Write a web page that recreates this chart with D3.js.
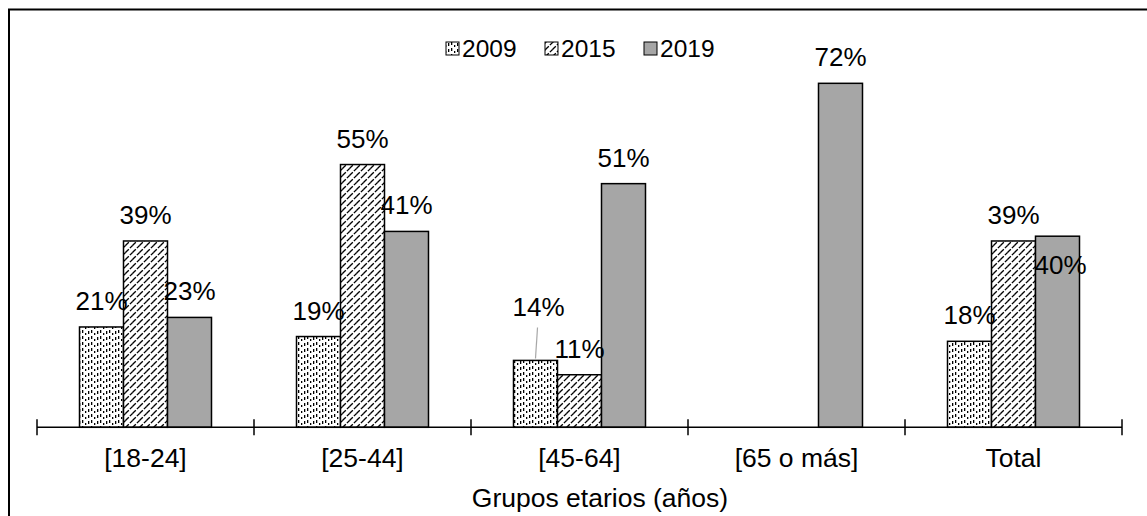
<!DOCTYPE html>
<html>
<head>
<meta charset="utf-8">
<script src="https://cdn.jsdelivr.net/npm/d3@7"></script>
<style>
  html, body { margin: 0; padding: 0; background: #fff; }
  svg { display: block; font-family: "Liberation Sans", Arial, sans-serif; }
</style>
</head>
<body>
<svg id="chart" width="1147" height="516"></svg>
<script>
// ---- data ----
const categories = ["[18-24]", "[25-44]", "[45-64]", "[65 o más]", "Total"];
const seriesNames = ["2009", "2015", "2019"];
const values2009 = [0.21, 0.19, 0.14, null, 0.18];
const values2015 = [0.39, 0.55, 0.11, null, 0.39];
const values2019 = [0.23, 0.41, 0.51, 0.72, 0.40];
const xAxisTitle = "Grupos etarios (años)";
// manual label nudges (dx, dy) for overlapping labels, keyed "series|category"
const labelNudges = { "2009|[45-64]": [3, -27], "2019|Total": [3, 55] };

const seriesValues = [values2009, values2015, values2019];

const svg = d3.select("#chart");
const W = 1147, H = 516;
svg.append("rect").attr("width", W).attr("height", H).attr("fill", "#fff");

// ---- patterns ----
const defs = svg.append("defs");
// 2009: dashed vertical lines
const p1 = defs.append("pattern").attr("id", "pat2009").attr("patternUnits", "userSpaceOnUse")
  .attr("width", 9).attr("height", 6);
p1.append("rect").attr("width", 9).attr("height", 6).attr("fill", "#fff");
p1.append("rect").attr("x", 1).attr("y", 0).attr("width", 1.3).attr("height", 3).attr("fill", "#000");
p1.append("rect").attr("x", 4).attr("y", 3).attr("width", 1.3).attr("height", 2).attr("fill", "#000");
p1.append("rect").attr("x", 7).attr("y", 1).attr("width", 1.3).attr("height", 3).attr("fill", "#000");
// 2015: dashed upward diagonals
const p2 = defs.append("pattern").attr("id", "pat2015").attr("patternUnits", "userSpaceOnUse")
  .attr("width", 7).attr("height", 7);
p2.append("rect").attr("width", 7).attr("height", 7).attr("fill", "#fff");
p2.append("path").attr("d", "M0,7 L7,0 M-2,2 L2,-2 M5,9 L9,5")
  .attr("stroke", "#000").attr("stroke-width", 1.3).attr("stroke-dasharray", "4,1.5");

const fills = { "2009": "url(#pat2009)", "2015": "url(#pat2015)", "2019": "#a6a6a6" };

// ---- frame (only top/left visible) ----
svg.append("rect").attr("x", 9).attr("y", 9.5).attr("width", 1400).attr("height", 800)
  .attr("fill", "none").attr("stroke", "#000").attr("stroke-width", 2);

// ---- scales ----
const x0 = d3.scaleBand().domain(categories).range([37, 1122]).paddingInner(0).paddingOuter(0);
const x1 = d3.scaleBand().domain(seriesNames).range([0, x0.bandwidth()]).paddingInner(0).paddingOuter(0.966);
const y = d3.scaleLinear().domain([0, 0.8]).range([427.3, 45.1]);

// ---- bars ----
const barData = [];
seriesNames.forEach((s, si) => {
  categories.forEach((c, ci) => {
    const v = seriesValues[si][ci];
    if (v != null) barData.push({ s, c, v });
  });
});

svg.append("g").selectAll("rect").data(barData).join("rect")
  .attr("x", d => x0(d.c) + x1(d.s))
  .attr("y", d => y(d.v))
  .attr("width", x1.bandwidth())
  .attr("height", d => y(0) - y(d.v))
  .attr("fill", d => fills[d.s])
  .attr("stroke", "#000").attr("stroke-width", 1.5);

// ---- axis ----
const axisG = svg.append("g").attr("transform", `translate(0,${y(0)})`);
axisG.append("line").attr("x1", 37).attr("x2", 1122).attr("stroke", "#000").attr("stroke-width", 1.5);
const tickXs = categories.map(c => x0(c)).concat([x0.range()[1]]);
axisG.selectAll("line.tick").data(tickXs).join("line").attr("class", "tick")
  .attr("x1", d => d).attr("x2", d => d).attr("y1", -8).attr("y2", 8)
  .attr("stroke", "#000").attr("stroke-width", 1.5);
axisG.selectAll("text.cat").data(categories).join("text").attr("class", "cat")
  .attr("x", d => x0(d) + x0.bandwidth() / 2).attr("y", 40)
  .attr("text-anchor", "middle").attr("font-size", 26.5).attr("fill", "#000").text(d => d);

svg.append("text").attr("x", 600).attr("y", 507).attr("text-anchor", "middle")
  .attr("font-size", 26.5).attr("fill", "#000").text(xAxisTitle);

// ---- data labels ----
const fmt = d3.format(".0%");
barData.forEach(d => {
  const nudge = labelNudges[d.s + "|" + d.c] || [0, 0];
  const cx = x0(d.c) + x1(d.s) + x1.bandwidth() / 2;
  const by = y(d.v) - 17;
  if (d.s === "2009" && d.c === "[45-64]") {
    svg.append("line").attr("x1", cx + 2).attr("y1", by + nudge[1] + 11)
      .attr("x2", cx).attr("y2", y(d.v) - 2).attr("stroke", "#a6a6a6").attr("stroke-width", 1.2);
  }
  svg.append("text").attr("x", cx + nudge[0]).attr("y", by + nudge[1])
    .attr("text-anchor", "middle").attr("font-size", 26).attr("fill", "#000").text(fmt(d.v));
});

// ---- legend ----
const legX = [446, 545, 644];
const leg = svg.append("g");
seriesNames.forEach((s, i) => {
  leg.append("rect").attr("x", legX[i]).attr("y", 42).attr("width", 13).attr("height", 13)
    .attr("fill", fills[s]).attr("stroke", "#000").attr("stroke-width", 1);
  leg.append("text").attr("x", legX[i] + 16).attr("y", 57).attr("font-size", 24.5).attr("fill", "#000").text(s);
});
</script>
</body>
</html>
